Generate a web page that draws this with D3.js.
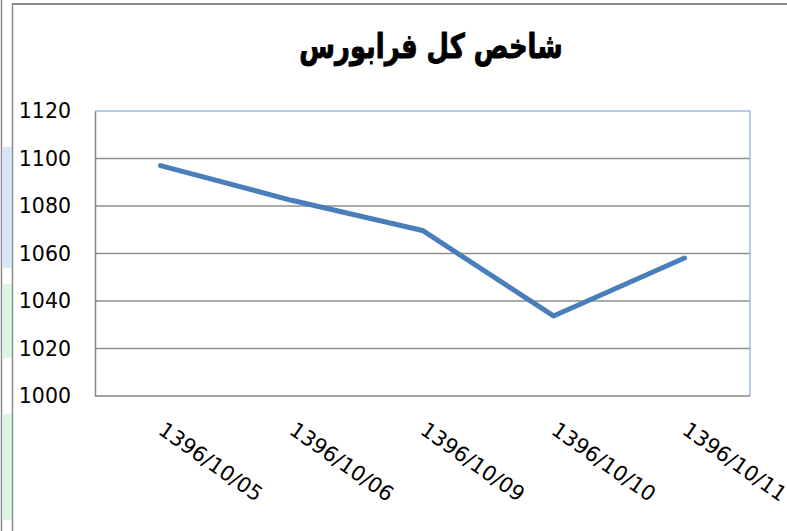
<!DOCTYPE html>
<html><head><meta charset="utf-8">
<script src="https://cdn.jsdelivr.net/npm/d3@7/dist/d3.min.js"></script>
<style>html,body{margin:0;padding:0;background:#fff;}svg{display:block;}</style>
</head><body>
<script>
const title = "شاخص کل فرابورس";
const categories = ["1396/10/05","1396/10/06","1396/10/09","1396/10/10","1396/10/11"];
const values = [1097, 1082.4, 1069.7, 1033.7, 1058.1];
const yTicks = [1000,1020,1040,1060,1080,1100,1120];

const W = 787, H = 531;
const svg = d3.select("body").append("svg").attr("width", W).attr("height", H);
svg.append("rect").attr("width", W).attr("height", H).attr("fill", "#fff");

// left side strips (background artifacts)
svg.append("rect").attr("x",3).attr("y",147).attr("width",8.5).attr("height",121).attr("fill","#d5e8fb");
svg.append("rect").attr("x",3).attr("y",284).attr("width",8.5).attr("height",74).attr("fill","#d8f6e1");
svg.append("rect").attr("x",3).attr("y",414).attr("width",8.5).attr("height",106).attr("fill","#d8f6e1");
// outer frame lines
svg.append("line").attr("x1",1.5).attr("x2",1.5).attr("y1",0).attr("y2",H).attr("stroke","#8c8c8c").attr("stroke-width",1.5);
svg.append("line").attr("x1",12.5).attr("x2",12.5).attr("y1",3).attr("y2",H).attr("stroke","#8c8c8c").attr("stroke-width",1.5);
svg.append("line").attr("x1",12).attr("x2",W).attr("y1",4).attr("y2",4).attr("stroke","#8c8c8c").attr("stroke-width",2);

const L = 95, R = 750, T = 111, B = 396;
const x = d3.scalePoint().domain(categories).range([L, R]).padding(0.5);
const y = d3.scaleLinear().domain([1000, 1120]).range([B, T]);

// gridlines
svg.append("g").selectAll("line").data(yTicks.filter(t => t > 1000 && t < 1120)).join("line")
  .attr("x1", L).attr("x2", R).attr("y1", d => y(d)).attr("y2", d => y(d))
  .attr("stroke", "#8e8e8e").attr("stroke-width", 1.5);

// plot border: top & right light blue
svg.append("line").attr("x1",L).attr("x2",R).attr("y1",y(1120)).attr("y2",y(1120)).attr("stroke","#9cb8e2").attr("stroke-width",1.5);
svg.append("line").attr("x1",R).attr("x2",R).attr("y1",y(1120)).attr("y2",B).attr("stroke","#9cb8e2").attr("stroke-width",1.5);

// y axis
const yAxis = svg.append("g").attr("transform", `translate(${L},0)`)
  .call(d3.axisLeft(y).tickValues(yTicks).tickSize(0).tickPadding(24).tickFormat(d3.format("d")));
yAxis.select(".domain").attr("stroke","#868686").attr("stroke-width",1.5);
yAxis.selectAll("text").attr("font-family","DejaVu Sans, sans-serif").attr("font-size","20.5px").attr("fill","#000");

// x axis
const xAxis = svg.append("g").attr("transform", `translate(0,${B})`)
  .call(d3.axisBottom(x).tickSize(0).tickFormat(d => d));
xAxis.select(".domain").attr("stroke","#868686").attr("stroke-width",1.5).attr("d", `M${L},0H${R}`);
xAxis.selectAll("text")
  .attr("font-family","DejaVu Sans, sans-serif").attr("font-size","21px").attr("fill","#000")
  .attr("text-anchor","start").attr("y",0).attr("dy",0)
  .attr("transform","translate(-4,37) rotate(35)");

// line
const line = d3.line().x((d,i) => x(categories[i])).y(d => y(d));
svg.append("path").datum(values).attr("d", line)
  .attr("fill","none").attr("stroke","#4a7ebb").attr("stroke-width",5)
  .attr("stroke-linejoin","round").attr("stroke-linecap","round");

// title
svg.append("text").attr("text-anchor","middle")
  .attr("transform","translate(431,58) scale(0.76,1)")
  .attr("font-family","DejaVu Sans, sans-serif").attr("font-weight","bold").attr("font-size","34px")
  .attr("stroke","#000").attr("stroke-width",1).attr("stroke-linejoin","round")
  .attr("direction","rtl").attr("fill","#000").text(title);
</script>
</body></html>
